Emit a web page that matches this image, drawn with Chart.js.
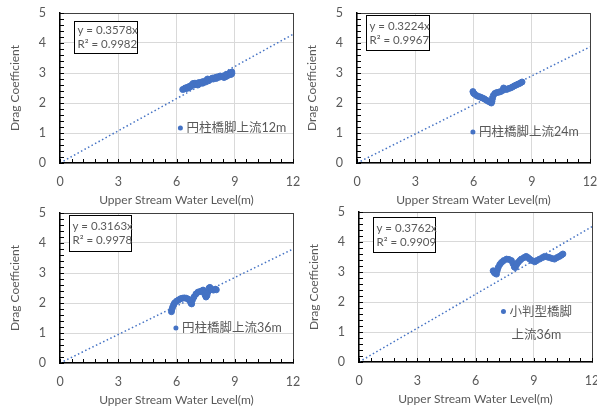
<!DOCTYPE html>
<html>
<head>
<meta charset="utf-8">
<script src="https://cdn.jsdelivr.net/npm/chart.js@4"></script>
<style>
  body { margin: 0; background: #fff; width: 597px; height: 410px; position: relative; overflow: hidden; }
  .cell { position: absolute; width: 305px; height: 207px; }
</style>
</head>
<body>
<div class="cell" style="left:0;top:0"><canvas id="c0" width="305" height="207"></canvas></div>
<div class="cell" style="left:297px;top:0"><canvas id="c1" width="305" height="207"></canvas></div>
<div class="cell" style="left:0;top:200px"><canvas id="c2" width="305" height="207"></canvas></div>
<div class="cell" style="left:299px;top:199px"><canvas id="c3" width="305" height="207"></canvas></div>
<script>
// 円柱橋脚上流12m
const level12 = [6.32,6.4,6.45,6.5,6.55,6.6,6.65,6.7,6.75,6.8,6.85,6.9,6.95,7.0,7.05,7.1,7.15,7.2,7.3,7.35,7.4,7.5,7.55,7.6,7.65,7.7,7.8,7.85,7.9,8.0,8.05,8.1,8.2,8.25,8.3,8.4,8.45,8.5,8.55,8.6,8.65,8.7,8.75,8.8,8.85,8.85];
const drag12  = [2.45,2.47,2.5,2.48,2.52,2.5,2.55,2.53,2.58,2.6,2.65,2.6,2.66,2.62,2.65,2.6,2.68,2.65,2.7,2.66,2.72,2.7,2.76,2.8,2.74,2.78,2.8,2.83,2.8,2.85,2.82,2.87,2.86,2.9,2.88,2.9,2.85,2.92,2.88,2.95,2.92,2.98,3.0,2.95,3.03,2.98];
// 円柱橋脚上流24m
const level24 = [5.97,6.0,6.05,6.15,6.25,6.35,6.45,6.55,6.65,6.75,6.85,6.92,6.95,6.98,7.02,7.1,7.2,7.3,7.4,7.5,7.55,7.6,7.7,7.8,7.9,8.0,8.1,8.2,8.3,8.4,8.5];
const drag24  = [2.38,2.33,2.3,2.25,2.22,2.2,2.17,2.14,2.1,2.06,2.03,2.0,2.05,2.15,2.25,2.32,2.35,2.36,2.38,2.42,2.5,2.46,2.45,2.48,2.5,2.53,2.57,2.6,2.63,2.66,2.7];
// 円柱橋脚上流36m
const level36 = [5.74,5.76,5.8,5.85,5.9,6.0,6.1,6.2,6.3,6.4,6.5,6.6,6.68,6.74,6.78,6.82,6.9,7.0,7.1,7.2,7.3,7.37,7.42,7.47,7.52,7.57,7.62,7.68,7.72,7.8,7.9,8.0,8.05];
const drag36  = [1.71,1.78,1.86,1.94,2.0,2.06,2.1,2.14,2.16,2.17,2.16,2.13,2.08,2.0,1.97,2.1,2.2,2.3,2.36,2.38,2.4,2.43,2.35,2.27,2.2,2.25,2.36,2.5,2.52,2.45,2.43,2.46,2.44];
// 小判型橋脚上流36m
const levelOval = [6.91,6.95,7.0,7.08,7.12,7.17,7.25,7.34,7.45,7.6,7.72,7.85,7.93,8.0,8.05,8.12,8.19,8.28,8.36,8.5,8.61,8.7,8.79,8.9,9.05,9.15,9.3,9.45,9.56,9.7,9.81,9.95,10.07,10.2,10.32,10.42,10.5];
const dragOval  = [3.04,3.0,2.96,2.93,3.05,3.15,3.25,3.32,3.38,3.43,3.42,3.38,3.28,3.17,3.15,3.25,3.32,3.38,3.43,3.48,3.52,3.48,3.43,3.38,3.34,3.38,3.43,3.48,3.52,3.5,3.48,3.45,3.43,3.48,3.52,3.56,3.6];

const levels = [level12, level24, level36, levelOval];
const drags = [drag12, drag24, drag36, dragOval];
const seriesNames = [['円柱橋脚上流12m'], ['円柱橋脚上流24m'], ['円柱橋脚上流36m'], ['小判型橋脚', '上流36m']];
const equations = ['y = 0.3578x', 'y = 0.3224x', 'y = 0.3163x', 'y = 0.3762x'];
const rSquared = ['R² = 0.9982', 'R² = 0.9967', 'R² = 0.9978', 'R² = 0.9909'];
// trend line value at x = 12
const trendEnd = [4.29, 3.87, 3.80, 4.51];
const legendAnchor = [[6.2, 1.17], [5.97, 1.03], [5.97, 1.17], [7.44, 1.68]];

const blue = '#4472C4';
const gray = '#595959';
const fontFamily = 'Lato, "Noto Sans CJK JP", sans-serif';
const isMultiple = (v, m) => Math.abs(v / m - Math.round(v / m)) < 1e-6;

// inside tick marks, equation box and in-plot legend
const decor = {
  id: 'decor',
  afterDraw(chart, args, opts) {
    const { ctx, chartArea: a, scales } = chart;
    ctx.save();
    ctx.setLineDash([]);
    ctx.lineWidth = 1;

    ctx.fillStyle = '#000';
    const left = Math.round(a.left), bottom = Math.round(a.bottom);
    scales.x.ticks.forEach((t) => {
      const x = Math.round(scales.x.getPixelForValue(t.value));
      ctx.fillRect(x, bottom - 4, 1, 4);
    });
    scales.y.ticks.forEach((t) => {
      const y = Math.round(scales.y.getPixelForValue(t.value));
      ctx.fillRect(left, y, 4, 1);
    });

    const [bx, by, bw, bh] = opts.box;
    const x0 = Math.round(a.left + bx) + 0.5, y0 = Math.round(a.top + by) + 0.5;
    ctx.fillStyle = '#fff';
    ctx.fillRect(x0, y0, bw, bh);
    ctx.strokeStyle = '#000';
    ctx.strokeRect(x0, y0, bw, bh);
    ctx.fillStyle = gray;
    ctx.font = '11.5px ' + fontFamily;
    ctx.textBaseline = 'middle';
    ctx.textAlign = 'left';
    ctx.fillText(equations[opts.index], x0 + 3, y0 + bh / 2 - 7);
    ctx.fillText(rSquared[opts.index], x0 + 3, y0 + bh / 2 + 7);

    const [lx, ly] = legendAnchor[opts.index];
    const px = scales.x.getPixelForValue(lx), py = scales.y.getPixelForValue(ly);
    ctx.fillStyle = blue;
    ctx.beginPath();
    ctx.arc(px, py, 2.5, 0, Math.PI * 2);
    ctx.fill();
    ctx.fillStyle = gray;
    ctx.font = '12.5px ' + fontFamily;
    seriesNames[opts.index].forEach((line, k) => {
      ctx.fillText(line, px + 6 + (k ? 2 : 0), py + k * 23);
    });
    ctx.restore();
  }
};

const boxes = [[14, 8, 63, 32], [9, 2, 63, 35], [9, 2, 62, 36], [14, 5, 62, 35]];

// top and right edges of the plot frame, drawn as borders of empty axes
const frameAxis = (position, min, max) => ({
  type: 'linear',
  position: position,
  min: min,
  max: max,
  ticks: { display: false },
  grid: { display: false, drawTicks: false },
  border: { display: true, color: '#404040', width: 1 },
  afterFit: (s) => {
    if (position === 'top') { s.height = 0; } else { s.width = 0; }
    s.paddingLeft = 0; s.paddingRight = 0; s.paddingTop = 0; s.paddingBottom = 0;
  },
});

function createChart(i) {
  const points = levels[i].map((x, k) => ({ x: x, y: drags[i][k] }));
  const config = {
    type: 'scatter',
    data: {
      datasets: [
        {
          data: points,
          backgroundColor: blue,
          borderColor: blue,
          pointRadius: 3,
          pointHoverRadius: 3,
        },
        {
          type: 'line',
          data: [{ x: 0, y: 0 }, { x: 12, y: trendEnd[i] }],
          borderColor: blue,
          borderWidth: 1.5,
          borderDash: [1.5, 2.5],
          pointRadius: 0,
          fill: false,
        },
      ],
    },
    options: {
      responsive: false,
      animation: false,
      layout: { padding: { top: 13, right: 12, left: 0, bottom: 0 } },
      plugins: {
        legend: { display: false },
        tooltip: { enabled: false },
        decor: { index: i, box: boxes[i] },
      },
      scales: {
        x: {
          type: 'linear',
          min: 0,
          max: 12,
          ticks: {
            stepSize: 0.6,
            autoSkip: false,
            maxRotation: 0,
            padding: 11,
            color: gray,
            font: { family: fontFamily, size: 12.5 },
            callback: (v) => (isMultiple(v, 3) ? v : ''),
          },
          grid: {
            color: (c) => (isMultiple(c.tick.value, 3) ? '#d9d9d9' : 'rgba(0,0,0,0)'),
            drawTicks: false,
          },
          border: { color: '#000', width: 1.5 },
          title: {
            display: true,
            text: 'Upper Stream Water Level(m)',
            color: gray,
            font: { family: fontFamily, size: 12 },
            padding: 0,
          },
          afterFit: (s) => { s.height = 44; s.paddingLeft = 0; s.paddingRight = 0; },
        },
        y: {
          min: 0,
          max: 5,
          ticks: {
            stepSize: 0.2,
            autoSkip: false,
            padding: 14,
            color: gray,
            font: { family: fontFamily, size: 12.5 },
            callback: (v) => (isMultiple(v, 1) ? v : ''),
          },
          grid: {
            color: (c) => (isMultiple(c.tick.value, 1) ? '#d9d9d9' : 'rgba(0,0,0,0)'),
            drawTicks: false,
          },
          border: { color: '#000', width: 1.5 },
          title: {
            display: true,
            text: 'Drag Coefficient',
            color: gray,
            font: { family: fontFamily, size: 12 },
            padding: { top: 8, bottom: 0 },
          },
          afterFit: (s) => { s.width = 60; s.paddingTop = 0; s.paddingBottom = 0; },
        },
        xTop: frameAxis('top', 0, 12),
        yRight: frameAxis('right', 0, 5),
      },
    },
    plugins: [decor],
  };
  new Chart(document.getElementById('c' + i), config);
}

document.addEventListener('DOMContentLoaded', () => {
  [0, 1, 2, 3].forEach(createChart);
});
</script>
</body>
</html>
